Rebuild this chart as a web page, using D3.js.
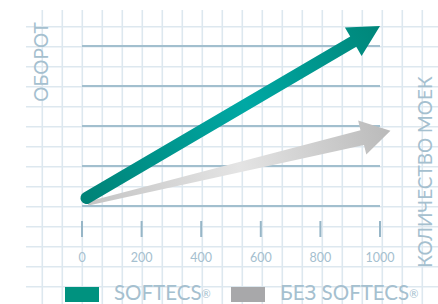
<!DOCTYPE html>
<html>
<head>
<meta charset="utf-8">
<script src="https://cdn.jsdelivr.net/npm/d3@7"></script>
<style>
  body { margin: 0; background: #fff; }
  text { font-family: Lato, "Open Sans", sans-serif; font-weight: 400; }
</style>
</head>
<body>
<script>
const xTicks = [0, 200, 400, 600, 800, 1000];
const yLevels = [0, 1, 2, 3, 4];
// arrow start/end in data units (x = количество моек, y = оборот)
const softecsArrow = [[15, 0.2], [1000, 4.5]];
const bezArrow = [[20, 0.06], [1035, 1.88]];
const legendLabels = ["SOFTECS", "БЕЗ SOFTECS"];

const svg = d3.select("body")
  .append("svg")
  .attr("width", 438)
  .attr("height", 304);

const x = d3.scaleLinear().domain([0, 1000]).range([82, 380]);
const y = d3.scaleLinear().domain([0, 4]).range([206, 46]);

// squared paper
const gridX = d3.range(42.3, 430, 20);
const gridY = d3.range(26.7, 300, 20);
svg.selectAll(".gv").data(gridX).enter().append("line")
  .attr("x1", d => d).attr("x2", d => d)
  .attr("y1", 10).attr("y2", 304)
  .attr("stroke", "#dde8ef").attr("stroke-width", 1.6);
svg.selectAll(".gh").data(gridY).enter().append("line")
  .attr("x1", 26).attr("x2", 438)
  .attr("y1", d => d).attr("y2", d => d)
  .attr("stroke", "#dde8ef").attr("stroke-width", 1.6);

// level lines
svg.selectAll(".lvl").data(yLevels).enter().append("line")
  .attr("x1", x(0)).attr("x2", x(1000))
  .attr("y1", d => y(d)).attr("y2", d => y(d))
  .attr("stroke", "#a2bfce").attr("stroke-width", 2);

// x ticks
svg.selectAll(".tk").data(xTicks).enter().append("line")
  .attr("x1", d => x(d)).attr("x2", d => x(d))
  .attr("y1", 221).attr("y2", 237)
  .attr("stroke", "#97b6c7").attr("stroke-width", 2);
svg.selectAll(".tl").data(xTicks).enter().append("text")
  .attr("x", d => x(d)).attr("y", 262)
  .attr("text-anchor", "middle")
  .attr("font-size", 12.5)
  .attr("fill", "#a5c0cf")
  .text(d => d);

// gradients
const defs = svg.append("defs");
const gTeal = defs.append("linearGradient").attr("id", "teal");
gTeal.append("stop").attr("offset", "0%").attr("stop-color", "#008276");
gTeal.append("stop").attr("offset", "55%").attr("stop-color", "#00a8a4");
gTeal.append("stop").attr("offset", "100%").attr("stop-color", "#008679");
const gGray = defs.append("linearGradient").attr("id", "gray");
gGray.append("stop").attr("offset", "0%").attr("stop-color", "#c4c4c4");
gGray.append("stop").attr("offset", "50%").attr("stop-color", "#e4e4e4");
gGray.append("stop").attr("offset", "100%").attr("stop-color", "#bababa");

function drawArrow(pts, fill, w0, w1, headLen, headW, round) {
  const x0 = x(pts[0][0]), y0 = y(pts[0][1]);
  const x1 = x(pts[1][0]), y1 = y(pts[1][1]);
  const len = Math.hypot(x1 - x0, y1 - y0);
  const ang = Math.atan2(y1 - y0, x1 - x0) * 180 / Math.PI;
  const b = len - headLen;
  let p = `M0,${-w0 / 2} L${b},${-w1 / 2} L${b},${-headW / 2} L${len},0 L${b},${headW / 2} L${b},${w1 / 2} L0,${w0 / 2}`;
  if (round) p += ` A${w0 / 2},${w0 / 2} 0 0 1 0,${-w0 / 2}`;
  p += "Z";
  svg.append("path")
    .attr("d", p)
    .attr("transform", `translate(${x0},${y0}) rotate(${ang})`)
    .attr("fill", fill);
}

drawArrow(bezArrow, "url(#gray)", 4, 15, 29, 35, false);
drawArrow(softecsArrow, "url(#teal)", 12, 12, 31, 33, true);

// axis titles
svg.append("text")
  .attr("transform", "translate(48,62) rotate(-90)")
  .attr("text-anchor", "middle")
  .attr("font-size", 19)
  .attr("fill", "#a5c0cf")
  .text("ОБОРОТ");
svg.append("text")
  .attr("transform", "translate(432,172) rotate(-90)")
  .attr("text-anchor", "middle")
  .attr("font-size", 19)
  .attr("fill", "#a5c0cf")
  .text("КОЛИЧЕСТВО МОЕК");

// legend
const legX = [65, 231];
const legColors = ["#00927f", "#a8a8aa"];
legendLabels.forEach((l, i) => {
  svg.append("rect")
    .attr("x", legX[i]).attr("y", 287)
    .attr("width", 34).attr("height", 15)
    .attr("fill", legColors[i]);
  const t = svg.append("text")
    .attr("x", legX[i] + 49).attr("y", 299.5)
    .attr("font-size", 20.5)
    .attr("fill", "#a5c0cf")
    .text(l);
  t.append("tspan").attr("font-size", 11).attr("dy", -2).text("®");
});
</script>
</body>
</html>
